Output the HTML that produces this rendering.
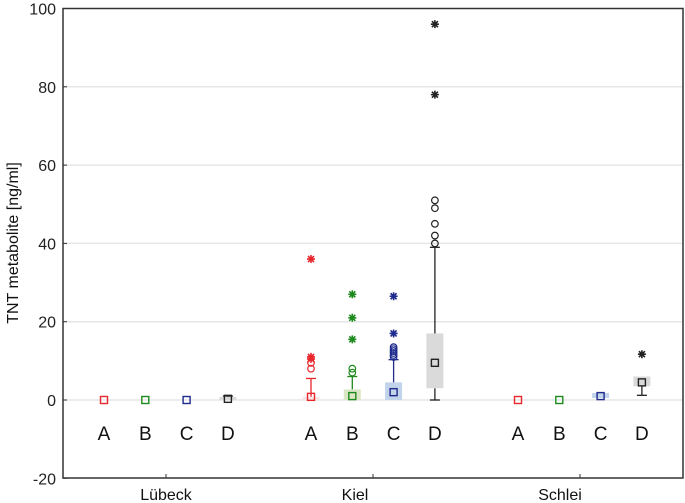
<!DOCTYPE html>
<html><head><meta charset="utf-8"><style>
body{margin:0;background:#fff}
svg{display:block;font-family:"Liberation Sans",sans-serif}
</style></head><body>
<svg id="c" width="685" height="503"></svg>
<script>
const groups=["Lübeck","Kiel","Schlei"];
const cats=["A","B","C","D"];
const colors=["#e8262b","#1e8a1e","#1e2a8c","#222222"];
const fills=["#f6e6e6","#dbe7c4","#c2d4ea","#dadada"];
// per series: [group][cat] = [lo, q1, median, q3, hi]
const stats=[
 [[0,0,0,0,0],[0,0,0,0,0],[0,0,0,0,0],[0,0,0.3,0.8,1]],
 [[0,0,0.8,0.8,5.5],[0,0,1,2.7,6],[0,0,2,4.5,10.3],[0,3,9.5,17,39]],
 [[0,0,0,0,0],[0,0,0,0,0],[0.5,0.5,1,1.8,1.8],[1.2,3.5,4.5,6,6]]
];
const outliers=[
 [[],[],[],[]],
 [[8,9.5],[7,8],[11,11.5,12,12.5,13,13.5],[40,42,45,49,51]],
 [[],[],[],[]]
];
const extremes=[
 [[],[],[],[]],
 [[10.5,11,36],[15.5,21,27],[17,26.5],[78,96]],
 [[],[],[],[11.7]]
];
const yTicks=[-20,0,20,40,60,80,100];
const L=63,R=683,T=8.5,B=478;
const y=v=>400-v*3.915;
const x=(g,c)=>104+g*207+c*41.3;
const svg=document.getElementById('c');
const NS="http://www.w3.org/2000/svg";
function el(t,a,p){const e=document.createElementNS(NS,t);for(const k in a)e.setAttribute(k,a[k]);(p||svg).appendChild(e);return e;}
yTicks.forEach(v=>{
 if(v>-20&&v<100){const g=el('line',{x1:L,x2:R,y1:y(v),y2:y(v),stroke:'#e6e6e6','stroke-width':1.5});
 
 }
 const t=el('text',{x:L-7,y:y(v)+6,'text-anchor':'end','font-size':16,fill:'#222'});t.textContent=v;
 
 
 el('line',{x1:L,x2:L+4,y1:y(v),y2:y(v),stroke:'#333'});
});
const fr=el('rect',{x:L,y:T,width:R-L,height:B-T,fill:'none',stroke:'#333','stroke-width':1.5});


const yt=el('text',{transform:'translate(18,243) rotate(-90)','text-anchor':'middle','font-size':16,fill:'#111'});
yt.textContent='TNT metabolite [ng/ml]';


const gx=[166,355,560],tx=[166,373,580];
groups.forEach((gname,g)=>{
 el('line',{x1:tx[g],x2:tx[g],y1:B,y2:B-4,stroke:'#333'});
 const t=el('text',{x:gx[g],y:500,'text-anchor':'middle','font-size':16,fill:'#111'});t.textContent=gname;
 
 
 cats.forEach((c,ci)=>{
  const cx=x(g,ci),col=colors[ci],s=stats[g][ci];
  const lab=el('text',{x:cx,y:440,'text-anchor':'middle','font-size':19,fill:'#111'});lab.textContent=c;
  
  
  const gg=el('g',{});
  
  
  if(s[4]>s[3]){el('line',{x1:cx,x2:cx,y1:y(s[3]),y2:y(s[4]),stroke:col,'stroke-width':1.3},gg);el('line',{x1:cx-5,x2:cx+5,y1:y(s[4]),y2:y(s[4]),stroke:col,'stroke-width':1.3},gg);}
  if(s[0]<s[1]){el('line',{x1:cx,x2:cx,y1:y(s[1]),y2:y(s[0]),stroke:col,'stroke-width':1.3},gg);el('line',{x1:cx-5,x2:cx+5,y1:y(s[0]),y2:y(s[0]),stroke:col,'stroke-width':1.3},gg);}
  if(s[3]>s[1]) el('rect',{x:cx-8.5,y:y(s[3]),width:17,height:y(s[1])-y(s[3]),fill:fills[ci]},gg);
  el('rect',{x:cx-3.5,y:y(s[2])-3.5,width:7,height:7,fill:'none',stroke:col,'stroke-width':1.4},gg);
  outliers[g][ci].forEach(v=>{const o=el('circle',{cx:cx,cy:y(v),r:3.3,fill:'none',stroke:col,'stroke-width':1.2},gg);
   
   });
  extremes[g][ci].forEach(v=>{
   const yy=y(v),r=4;
   const p=el('path',{d:`M${cx-r} ${yy}H${cx+r}M${cx} ${yy-r}V${yy+r}M${cx-r*0.75} ${yy-r*0.75}L${cx+r*0.75} ${yy+r*0.75}M${cx-r*0.75} ${yy+r*0.75}L${cx+r*0.75} ${yy-r*0.75}`,stroke:col,'stroke-width':1.6,fill:'none'},gg);
   
   });
 });
});
</script>
</body></html>
